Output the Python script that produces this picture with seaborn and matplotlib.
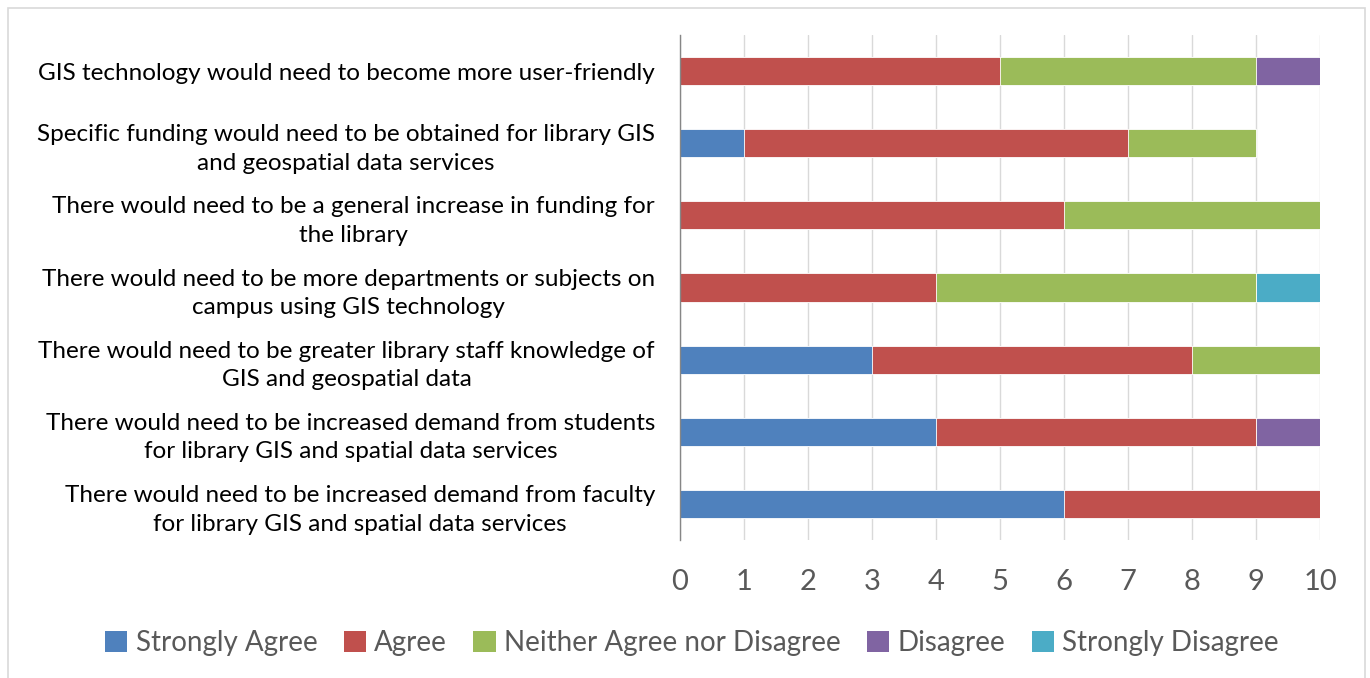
import numpy as np
import pandas as pd
import seaborn as sns
from matplotlib import pyplot as plt
from matplotlib.patches import Rectangle, Patch

# data, top row first
statements = [
    'GIS technology would need to become more user-friendly',
    'Specific funding would need to be obtained for library GIS\nand geospatial data services',
    'There would need to be a general increase in funding for\nthe library',
    'There would need to be more departments or subjects on\ncampus using GIS technology',
    'There would need to be greater library staff knowledge of\nGIS and geospatial data',
    'There would need to be increased demand from students\nfor library GIS and spatial data services',
    'There would need to be increased demand from faculty\nfor library GIS and spatial data services',
]
responses = ['Strongly Agree', 'Agree', 'Neither Agree nor Disagree', 'Disagree', 'Strongly Disagree']
strongly_agree = [0, 1, 0, 0, 3, 4, 6]
agree = [5, 6, 6, 4, 5, 5, 4]
neither = [4, 2, 4, 5, 2, 0, 0]
disagree = [1, 0, 0, 0, 0, 1, 0]
strongly_disagree = [0, 0, 0, 1, 0, 0, 0]
colors = ['#4F81BD', '#C0504D', '#9BBB59', '#8064A2', '#4BACC6']

series = [strongly_agree, agree, neither, disagree, strongly_disagree]
cum = np.cumsum(np.array(series), axis=0)

sns.set_style('white')
plt.rcParams['font.family'] = ['Lato', 'DejaVu Sans']

fig = plt.figure(figsize=(13.7, 6.78), dpi=100)
ax = fig.add_axes([680 / 1370, 1 - 540 / 678, 640 / 1370, 505 / 678])

# stacked bars: draw cumulative totals from the right end back to the left
for k in range(len(responses) - 1, -1, -1):
    df = pd.DataFrame({'statement': statements, 'value': cum[k]})
    sns.barplot(data=df, x='value', y='statement', orient='h', color=colors[k],
                saturation=1, width=0.39, edgecolor='white', linewidth=0.6, ax=ax)

ax.set_xlim(0, 10)
ax.set_xticks(range(0, 11))
ax.set_xlabel('')
ax.set_ylabel('')
ax.grid(axis='x', color='#D9D9D9', linewidth=1)
ax.set_axisbelow(True)
for s in ['top', 'right', 'bottom']:
    ax.spines[s].set_visible(False)
ax.spines['left'].set_color('#868686')
ax.spines['left'].set_linewidth(1)
ax.tick_params(axis='x', length=0, labelsize=21, labelcolor='#595959', pad=21)
ax.tick_params(axis='y', length=0, labelsize=17.5, labelcolor='black', pad=18)
for lbl in ax.get_yticklabels():
    lbl.set_multialignment('center')
    lbl.set_linespacing(1.45)

handles = [Patch(facecolor=c, edgecolor='none') for c in colors]
fig.legend(handles, responses, loc='center', bbox_to_anchor=(692 / 1370, 1 - 643 / 678),
           ncol=5, frameon=False, fontsize=20, labelcolor='#595959',
           handlelength=0.8, handleheight=0.8, handletextpad=0.3, columnspacing=0.95)

fig.patches.append(Rectangle((8 / 1370, -0.05), 1357 / 1370, 1.05 - 8 / 678,
                             transform=fig.transFigure, fill=False,
                             edgecolor='#D9D9D9', linewidth=1.2))

fig.savefig('out.png', dpi=100)
